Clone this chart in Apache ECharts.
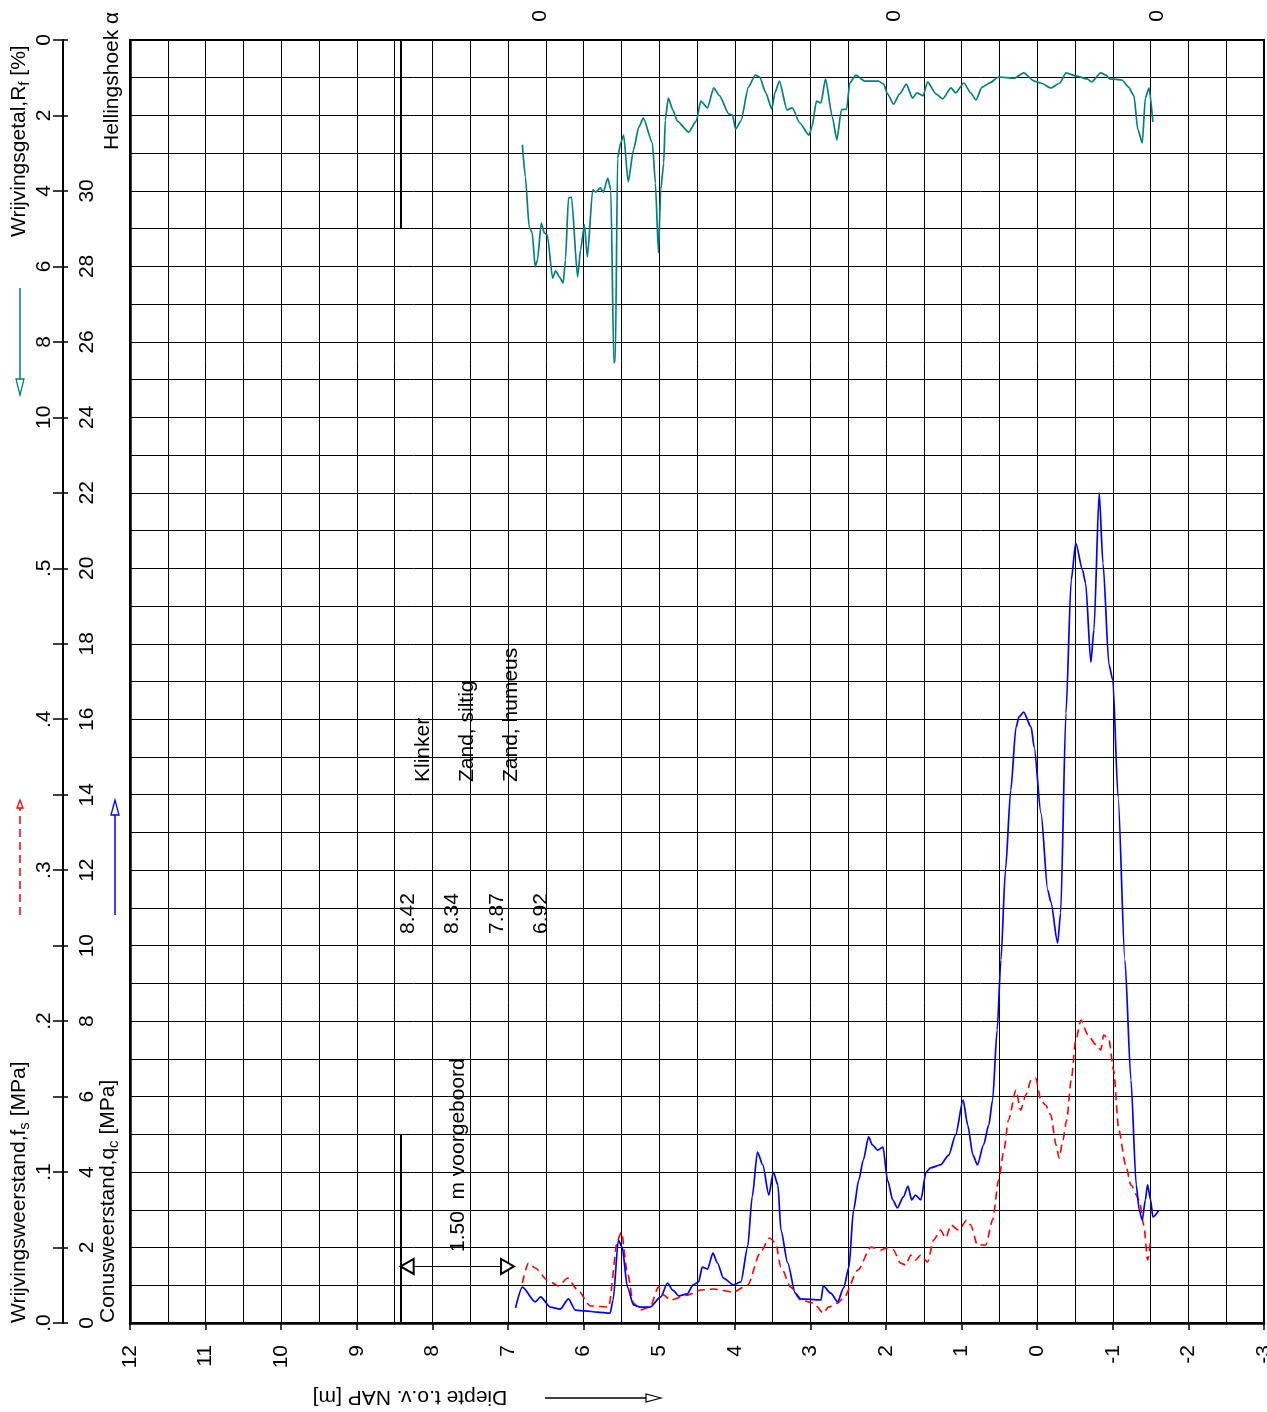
<!DOCTYPE html>
<html><head><meta charset="utf-8">
<script src="https://cdn.jsdelivr.net/npm/echarts@6/dist/echarts.min.js"></script>
<style>html,body{margin:0;padding:0;background:#fff}#c{width:1267px;height:1412px}</style>
</head><body><div id="c"></div>
<script>
// ---------- data ----------
const qcDepth = [6.90,6.81,6.64,6.57,6.44,6.31,6.20,6.11,5.98,5.82,5.65,5.61,5.54,5.49,5.42,5.34,5.25,5.12,4.98,4.89,4.82,4.74,4.63,4.55,4.48,4.43,4.36,4.29,4.23,4.15,4.02,3.92,3.83,3.77,3.70,3.63,3.55,3.49,3.43,3.39,3.30,3.20,3.13,2.86,2.83,2.73,2.64,2.56,2.49,2.43,2.36,2.30,2.23,2.18,2.11,2.04,1.98,1.91,1.85,1.77,1.71,1.66,1.61,1.54,1.47,1.41,1.28,1.17,1.08,0.98,0.92,0.85,0.79,0.71,0.64,0.59,0.53,0.48,0.42,0.35,0.28,0.24,0.18,0.08,0.04,-0.05,-0.14,-0.18,-0.27,-0.31,-0.38,-0.45,-0.51,-0.60,-0.64,-0.71,-0.75,-0.82,-0.87,-0.95,-1.00,-1.07,-1.16,-1.24,-1.31,-1.35,-1.39,-1.43,-1.46,-1.50,-1.53,-1.61];
const qcValues = [0.40,0.95,0.56,0.69,0.42,0.37,0.64,0.34,0.32,0.29,0.26,0.61,2.20,2.01,0.95,0.48,0.42,0.42,0.69,1.06,0.87,0.72,0.77,1.01,1.09,1.48,1.43,1.85,1.59,1.19,1.01,1.09,2.01,3.34,4.53,4.19,3.39,4.00,3.66,2.46,1.59,0.79,0.64,0.61,0.98,0.79,0.56,0.93,1.48,2.99,3.79,4.32,4.93,4.72,4.58,4.66,3.79,3.26,3.05,3.34,3.63,3.26,3.39,3.26,4.00,4.11,4.19,4.45,4.98,5.91,5.25,4.45,4.19,4.72,5.25,5.91,7.76,9.62,12.00,14.12,15.79,16.06,16.19,15.79,15.26,13.51,11.47,11.16,10.07,10.86,16.16,19.69,20.67,19.95,19.61,17.51,18.36,21.99,20.14,17.44,17.04,13.94,9.62,6.44,3.66,2.99,2.73,3.26,3.66,3.26,2.81,2.99];

const fsDepth = [6.81,6.73,6.64,6.48,6.33,6.21,6.08,5.91,5.67,5.55,5.50,5.42,5.34,5.25,5.12,5.01,4.94,4.85,4.63,4.45,4.28,4.02,3.83,3.66,3.54,3.46,3.39,3.26,3.13,2.96,2.83,2.76,2.64,2.56,2.37,2.20,2.07,1.99,1.90,1.81,1.74,1.67,1.61,1.54,1.45,1.37,1.28,1.21,1.14,1.04,0.93,0.88,0.79,0.68,0.59,0.51,0.44,0.38,0.28,0.22,0.15,0.08,0.02,-0.05,-0.11,-0.18,-0.25,-0.29,-0.34,-0.39,-0.45,-0.51,-0.58,-0.67,-0.78,-0.84,-0.88,-0.95,-1.01,-1.08,-1.17,-1.24,-1.35,-1.41,-1.46,-1.50];
const fsValues = [0.0265,0.0397,0.0364,0.0285,0.0245,0.0298,0.0219,0.0113,0.0106,0.0550,0.0603,0.0331,0.0132,0.0086,0.0106,0.0238,0.0185,0.0152,0.0185,0.0219,0.0225,0.0205,0.0252,0.0470,0.0563,0.0530,0.0371,0.0238,0.0152,0.0132,0.0066,0.0106,0.0132,0.0166,0.0351,0.0503,0.0484,0.0497,0.0484,0.0397,0.0384,0.0450,0.0417,0.0450,0.0404,0.0550,0.0616,0.0563,0.0649,0.0616,0.0682,0.0649,0.0517,0.0517,0.0682,0.0947,0.1146,0.1345,0.1543,0.1411,0.1510,0.1610,0.1623,0.1477,0.1444,0.1378,0.1179,0.1093,0.1212,0.1345,0.1610,0.1875,0.2007,0.1908,0.1842,0.1808,0.1908,0.1875,0.1676,0.1278,0.1047,0.0914,0.0815,0.0649,0.0417,0.0550];

const rfDepth = [6.81,6.77,6.72,6.68,6.64,6.61,6.56,6.52,6.48,6.41,6.37,6.32,6.27,6.24,6.20,6.16,6.08,6.04,5.99,5.95,5.88,5.84,5.78,5.74,5.68,5.64,5.60,5.58,5.55,5.51,5.47,5.41,5.34,5.27,5.21,5.09,5.05,5.01,4.98,4.94,4.92,4.88,4.82,4.76,4.61,4.51,4.45,4.36,4.28,4.20,4.08,4.03,3.99,3.92,3.82,3.73,3.67,3.59,3.51,3.47,3.41,3.31,3.24,3.14,3.02,2.98,2.92,2.86,2.80,2.71,2.65,2.59,2.52,2.48,2.40,2.28,2.10,2.03,1.98,1.90,1.82,1.73,1.65,1.59,1.51,1.45,1.34,1.25,1.14,1.08,0.97,0.88,0.81,0.73,0.63,0.51,0.30,0.18,0.04,-0.05,-0.18,-0.30,-0.38,-0.51,-0.66,-0.72,-0.84,-0.91,-0.96,-1.12,-1.21,-1.28,-1.33,-1.39,-1.43,-1.48,-1.53];
const rfValues = [2.78,3.63,4.95,5.11,6.01,5.83,4.85,5.11,5.17,6.31,6.12,6.28,6.44,5.83,4.19,4.16,6.28,5.56,4.90,5.75,3.97,4.03,3.92,4.03,3.66,3.97,8.56,8.48,3.13,2.73,2.52,3.76,2.91,2.31,2.07,2.73,3.79,5.64,3.97,3.26,2.12,1.54,1.85,2.15,2.44,2.15,1.62,1.80,1.27,1.48,1.96,1.99,2.36,2.15,1.25,0.93,0.98,1.40,1.83,1.40,1.09,1.85,1.80,2.20,2.52,2.31,1.62,1.67,1.03,2.04,2.65,1.85,1.83,1.14,0.93,1.09,1.09,1.17,1.43,1.70,1.43,1.17,1.54,1.40,1.48,1.11,1.43,1.56,1.27,1.40,1.14,1.40,1.59,1.25,1.14,0.98,1.01,0.87,1.09,1.14,1.27,1.14,0.87,0.95,1.03,1.11,0.87,0.93,1.03,1.06,1.25,1.48,2.36,2.73,1.54,1.27,2.17];

const groundLevel = 8.42;          // m NAP, maaiveld
const predrillEnd = 6.92;          // end of voorgeboord
const predrillQc = 1.5;            // level of the arrow (qc units)
const layerNames = ['Klinker', 'Zand, siltig', 'Zand, humeus'];
const layerLevels = ['8.42', '8.34', '7.87', '6.92'];
const inclinationLabels = ['0', '0', '0'];
const depthRange = [-3, 12];
const qcRange = [0, 34];

// ---------- chart ----------
const FONT = 'Liberation Sans';
const FSZ = 21;
const BLUE = '#0000ff', RED = '#ff0000', TEAL = '#008080';
const chart = echarts.init(document.getElementById('c'), null, {renderer: 'canvas'});
const zip = (a, b) => a.map((v, i) => [v, b[i]]);
const lbl = {fontFamily: FONT, fontSize: FSZ, color: '#000'};

function vText(text, x, y, align, extra) {
  return {
    type: 'text', x: x, y: y, rotation: Math.PI / 2, silent: true,
    style: Object.assign({text: text, fontFamily: FONT, fontSize: FSZ, fill: '#000',
      align: align, textAlign: align, verticalAlign: 'middle', textVerticalAlign: 'middle'}, extra || {})
  };
}
const subRich = {sub: {fontFamily: FONT, fontSize: 15, fill: '#000', padding: [12, 0, 0, 0], verticalAlign: 'top'}};

const graphics = [
  vText('Wrijvingsgetal,R{sub|f} [%]', 19, 237, 'left', {rich: subRich}),
  vText('Wrijvingsweerstand,f{sub|s} [MPa]', 19, 1323, 'left', {rich: subRich}),
  vText('Conusweerstand,q{sub|c} [MPa]', 108, 1323, 'left', {rich: subRich}),
  vText('Hellingshoek \u03b1', 112, 150, 'left'),
  // legend arrows
  {type: 'line', silent: true, shape: {x1: 20, y1: 288, x2: 20, y2: 380}, style: {stroke: TEAL, lineWidth: 1.5}},
  {type: 'polygon', silent: true, shape: {points: [[20, 395], [16, 379], [24, 379]]}, style: {fill: '#fff', stroke: TEAL, lineWidth: 1.3}},
  {type: 'line', silent: true, shape: {x1: 20, y1: 915, x2: 20, y2: 808}, style: {stroke: RED, lineWidth: 1.5, lineDash: [8, 5]}},
  {type: 'polygon', silent: true, shape: {points: [[20, 800], [17, 808], [23, 808]]}, style: {fill: '#fff', stroke: RED, lineWidth: 1.3}},
  {type: 'line', silent: true, shape: {x1: 115, y1: 915, x2: 115, y2: 814}, style: {stroke: BLUE, lineWidth: 1.5}},
  {type: 'polygon', silent: true, shape: {points: [[115, 800], [111, 815], [119, 815]]}, style: {fill: '#fff', stroke: BLUE, lineWidth: 1.3}},
  {type: 'line', silent: true, shape: {x1: 545, y1: 1398, x2: 646, y2: 1398}, style: {stroke: '#000', lineWidth: 1.3}},
  {type: 'polygon', silent: true, shape: {points: [[661, 1398], [646, 1394], [646, 1402]]}, style: {fill: '#fff', stroke: '#000', lineWidth: 1.2}},
  {type: 'text', silent: true, x: 410, y: 1397, rotation: Math.PI,
   style: {text: 'Diepte t.o.v. NAP [m]', fontFamily: FONT, fontSize: FSZ, fill: '#000', align: 'center', textAlign: 'center', verticalAlign: 'middle', textVerticalAlign: 'middle'}},
  // annotations
  vText('1.50  m voorgeboord', 458, 1252, 'left')
];
const layerX = [423, 467, 511];
layerNames.forEach((t, i) => graphics.push(vText(t, layerX[i], 782, 'left')));
const levelX = [408, 452, 497, 541];
layerLevels.forEach((t, i) => graphics.push(vText(t, levelX[i], 934, 'left')));
const inclX = [540, 894, 1157];
inclinationLabels.forEach((t, i) => graphics.push(vText(t, inclX[i], 16, 'center')));

const arrowOff = 0.086;
const option = {
  animation: false,
  backgroundColor: '#fff',
  grid: {left: 130, right: 3, top: 40, bottom: 89, show: true, borderColor: '#000', borderWidth: 2,
         containLabel: false, outerBoundsMode: 'none'},
  xAxis: [
    {type: 'value', min: depthRange[0], max: depthRange[1], inverse: true, interval: 0.5, position: 'bottom',
     axisLine: {show: true, onZero: false, lineStyle: {color: '#000', width: 2.5}},
     axisTick: {show: false}, axisLabel: {show: false},
     splitLine: {show: true, lineStyle: {color: '#000', width: 1}}},
    {type: 'value', min: depthRange[0], max: depthRange[1], inverse: true, interval: 1, position: 'bottom',
     axisLine: {show: false, onZero: false},
     axisTick: {show: true, length: 7, lineStyle: {color: '#000', width: 1.5}},
     axisLabel: Object.assign({rotate: 90, margin: 22, showMinLabel: true, showMaxLabel: true}, lbl),
     splitLine: {show: false}}
  ],
  yAxis: [
    {type: 'value', min: qcRange[0], max: qcRange[1], interval: 1,
     axisLine: {show: true, onZero: false, lineStyle: {color: '#000', width: 2.5}},
     axisTick: {show: false}, axisLabel: {show: false},
     splitLine: {show: true, lineStyle: {color: '#000', width: 1}}},
    {type: 'value', min: qcRange[0], max: qcRange[1], interval: 2, position: 'left', offset: 67,
     axisLine: {show: true, onZero: false, lineStyle: {color: '#000', width: 2}},
     axisTick: {show: true, inside: true, length: 5, lineStyle: {color: '#000', width: 1.5}},
     axisLabel: Object.assign({inside: true, rotate: 90, margin: 14, showMinLabel: true, showMaxLabel: true,
       formatter: v => (v <= 30 ? String(v) : '')}, lbl),
     splitLine: {show: false}},
    {type: 'value', min: 0, max: 34, interval: 2, inverse: true, position: 'left', offset: 67,
     axisLine: {show: false, onZero: false},
     axisTick: {show: true, length: 10, lineStyle: {color: '#000', width: 1.5}},
     axisLabel: Object.assign({rotate: 90, margin: 8, showMinLabel: true, showMaxLabel: true,
       formatter: v => (v <= 10 ? String(v) : '')}, lbl),
     splitLine: {show: false}},
    {type: 'value', min: 0, max: 0.85, interval: 0.1, position: 'left', offset: 67,
     axisLine: {show: false, onZero: false}, axisTick: {show: false},
     axisLabel: Object.assign({rotate: 90, margin: 8, showMinLabel: true, showMaxLabel: false,
       formatter: v => (v <= 0.5001 ? '.' + Math.round(v * 10) : '')}, lbl),
     splitLine: {show: false}}
  ],
  series: [
    {name: 'fs', type: 'line', xAxisIndex: 0, yAxisIndex: 3, data: zip(fsDepth, fsValues), symbol: 'none',
     smooth: 0.25, smoothMonotone: 'x',
     lineStyle: {color: RED, width: 1.6, type: [8, 5]}, z: 3},
    {name: 'qc', type: 'line', xAxisIndex: 0, yAxisIndex: 0, data: zip(qcDepth, qcValues), symbol: 'none',
     smooth: 0.25, smoothMonotone: 'x',
     lineStyle: {color: BLUE, width: 1.7}, z: 4},
    {name: 'Rf', type: 'line', xAxisIndex: 0, yAxisIndex: 2, data: zip(rfDepth, rfValues), symbol: 'none',
     smooth: 0.2, smoothMonotone: 'x',
     lineStyle: {color: TEAL, width: 1.7}, z: 4},
    {name: 'annot', type: 'line', xAxisIndex: 0, yAxisIndex: 0, data: [], z: 5,
     markLine: {silent: true, animation: false, symbol: 'none', label: {show: false},
       lineStyle: {color: '#000', width: 2, type: 'solid'},
       emphasis: {disabled: true},
       data: [
         [{coord: [groundLevel, 29]}, {coord: [groundLevel, qcRange[1]]}],
         [{coord: [groundLevel, 0]}, {coord: [groundLevel, 5]}],
         [{coord: [groundLevel - arrowOff, predrillQc], symbol: 'emptyTriangle', symbolSize: [15, 13], lineStyle: {width: 1.2}},
          {coord: [predrillEnd + arrowOff, predrillQc], symbol: 'emptyTriangle', symbolSize: [15, 13]}]
       ]}}
  ],
  graphic: graphics
};
chart.setOption(option);
</script></body></html>
